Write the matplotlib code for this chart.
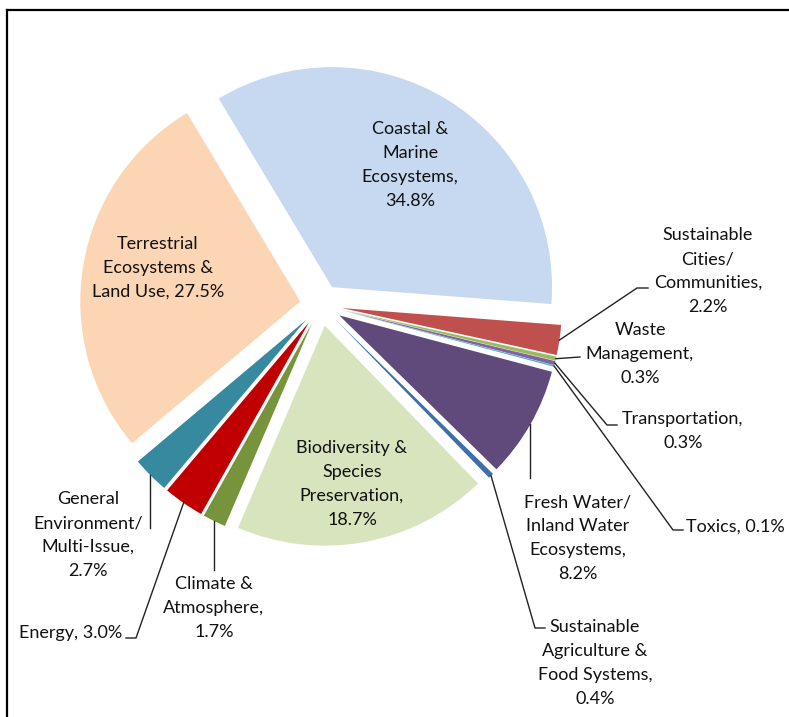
import numpy as np
import matplotlib
matplotlib.use("Agg")
from matplotlib import pyplot as plt
from matplotlib.lines import Line2D

W, H = 789, 717

# wedge data, clockwise from the top-left edge of the Coastal slice
names = ["Coastal &\nMarine\nEcosystems,", "Sustainable\nCities/\nCommunities,",
         "Waste\nManagement,", "Transportation,", "Toxics,",
         "Fresh Water/\nInland Water\nEcosystems,",
         "Sustainable\nAgriculture &\nFood Systems,",
         "Biodiversity &\nSpecies\nPreservation,", "Climate &\nAtmosphere,",
         "Energy,", "General\nEnvironment/\nMulti-Issue,",
         "Terrestrial\nEcosystems &\nLand Use,"]
shares = [34.8, 2.2, 0.3, 0.3, 0.1, 8.2, 0.4, 18.7, 1.7, 3.0, 2.7, 27.5]
colors = ["#C6D9F1", "#C0504D", "#9BBB59", "#8064A2", "#4BACC6", "#604A7B",
          "#3F6FA8", "#D7E4BD", "#77933C", "#C00000", "#37899F", "#FCD5B5"]
# how the share is joined to the name: new line or same line
joins = ["\n", "\n", "\n", "\n", " ", "\n", "\n", "\n", "\n", " ", "\n", " "]

# layout in picture pixels (y measured from the top)
cx, cy = 321, 305
R = 220
gap = 21
start = 121

# label centre, alignment, leader path after the anchor (None = no leader)
label_pos = [(410, 165, "center"), (708, 271, "center"), (640, 354, "center"),
             (683, 431, "center"), (686, 527, "left"), (578, 538, "center"),
             (595, 663, "center"), (352, 484, "center"), (214, 608, "center"),
             (122, 633, "right"), (88, 535, "center"), (158, 268, "center")]
leaders = [None, [(637, 288), (648, 288)], [(580, 357)],
           [(607, 425), (617, 425)], [(673, 530), (683, 530)], ["v", 478],
           [(535, 628), (545, 628)], None, ["v", 570],
           [(136, 638), (126, 638)], ["v", 528], None]

plt.rcParams['font.family'] = ['Lato', 'DejaVu Sans']

fig = plt.figure(figsize=(W / 100, H / 100), dpi=100)
ax = fig.add_axes([0, 0, 1, 1])

# explode is in data units here (pixels)
wedges, _ = ax.pie(shares, colors=colors, startangle=start, counterclock=False,
                   explode=[gap] * len(shares), radius=R,
                   center=(cx, H - cy), wedgeprops=dict(linewidth=0))
# pie resets the limits, so set them afterwards
ax.set_xlim(0, W)
ax.set_ylim(0, H)
ax.set_aspect("equal")
ax.axis("off")

def Y(y):
    return H - y

for i, w in enumerate(wedges):
    mid = np.radians((w.theta1 + w.theta2) / 2)
    ax_ = cx + (gap + R) * np.cos(mid)
    ay_ = H - cy + (gap + R) * np.sin(mid)
    lx, ly, ha = label_pos[i]
    ax.text(lx, Y(ly), names[i] + joins[i] + "%.1f%%" % shares[i],
            ha=ha, va="center", fontsize=13, linespacing=1.6, color="#111111")
    path = leaders[i]
    if path is None:
        continue
    if path[0] == "v":
        xs, ys = [ax_, ax_], [ay_, Y(path[1])]
    else:
        xs = [ax_] + [p[0] for p in path]
        ys = [ay_] + [Y(p[1]) for p in path]
    ax.plot(xs, ys, color="#222222", lw=1.0)

# frame of the original chart area (only top and left edge show)
fig.add_artist(Line2D([7 / W, 1], [1 - 10 / H, 1 - 10 / H], color="black", lw=1.6))
fig.add_artist(Line2D([7 / W, 7 / W], [0, 1 - 10 / H], color="black", lw=1.6))

fig.savefig("out.png", dpi=100)
